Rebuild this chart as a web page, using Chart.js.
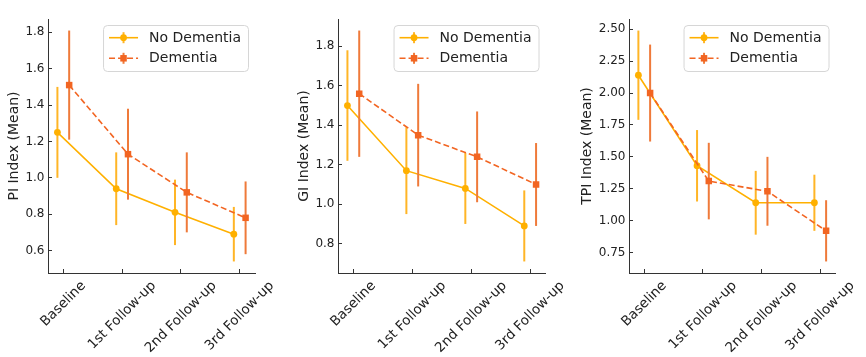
<!DOCTYPE html>
<html><head><meta charset="utf-8">
<script src="https://cdn.jsdelivr.net/npm/chart.js@4.4.1/dist/chart.umd.min.js"></script>
<style>
html,body{margin:0;padding:0;background:#fff;width:866px;height:357px;overflow:hidden;}
.panel{position:absolute;top:0;height:357px;}
canvas{display:block;}
</style></head><body>
<div class="panel" style="left:0px;width:290px"><canvas id="c1" width="290" height="357"></canvas></div>
<div class="panel" style="left:290px;width:290px"><canvas id="c2" width="290" height="357"></canvas></div>
<div class="panel" style="left:570px;width:296px"><canvas id="c3" width="296" height="357"></canvas></div>
<script>
// ---- data ----
const categories = ['Baseline', '1st Follow-up', '2nd Follow-up', '3rd Follow-up'];
const seriesNames = ['No Dementia', 'Dementia'];

const piNoDementia    = [1.25, 0.94, 0.81, 0.69];
const piNoDementiaErr = [0.25, 0.20, 0.18, 0.15];
const piDementia      = [1.51, 1.13, 0.92, 0.78];
const piDementiaErr   = [0.30, 0.25, 0.22, 0.20];

const giNoDementia    = [1.50, 1.17, 1.08, 0.89];
const giNoDementiaErr = [0.28, 0.22, 0.18, 0.18];
const giDementia      = [1.56, 1.35, 1.24, 1.10];
const giDementiaErr   = [0.32, 0.26, 0.23, 0.21];

const tpiNoDementia    = [2.14, 1.43, 1.14, 1.14];
const tpiNoDementiaErr = [0.35, 0.28, 0.25, 0.22];
const tpiDementia      = [2.00, 1.31, 1.23, 0.92];
const tpiDementiaErr   = [0.38, 0.30, 0.27, 0.24];

const piTicks  = [0.6, 0.8, 1.0, 1.2, 1.4, 1.6, 1.8];
const giTicks  = [0.8, 1.0, 1.2, 1.4, 1.6, 1.8];
const tpiTicks = [0.75, 1.00, 1.25, 1.50, 1.75, 2.00, 2.25, 2.50];

const yTitles = ['PI Index (Mean)', 'GI Index (Mean)', 'TPI Index (Mean)'];

// ---- style ----
Chart.defaults.font.family = 'DejaVu Sans';
const TEXT = '#222222';
const AXIS = '#333333';
const ND_COLOR = '#FFB000', ND_ERR = '#FFB526';
const D_COLOR = '#F26522', D_ERR = '#EF7A3A';
const X_OFFSET = 0.1;

const errorBarPlugin = {
  id: 'errorBars',
  beforeDatasetDraw(chart, args) {
    const ds = chart.data.datasets[args.index];
    if (!ds.errors) return;
    const xs = chart.scales.x, ys = chart.scales.y, ctx = chart.ctx;
    ctx.save();
    ctx.strokeStyle = ds.errColor;
    ctx.lineWidth = 2;
    ds.data.forEach((p, i) => {
      const x = xs.getPixelForValue(p.x);
      ctx.beginPath();
      ctx.moveTo(x, ys.getPixelForValue(p.y - ds.errors[i]));
      ctx.lineTo(x, ys.getPixelForValue(p.y + ds.errors[i]));
      ctx.stroke();
    });
    ctx.restore();
  }
};

const xLabelPlugin = {
  id: 'xLabels',
  afterDraw(chart) {
    const ctx = chart.ctx, xs = chart.scales.x, area = chart.chartArea;
    const fs = 13.5;
    ctx.save();
    ctx.font = fs + 'px "DejaVu Sans"';
    ctx.fillStyle = TEXT;
    ctx.textAlign = 'center';
    ctx.textBaseline = 'middle';
    categories.forEach((c, i) => {
      const w = ctx.measureText(c).width;
      const h = fs * 1.0;
      const span = (w + h) * Math.SQRT1_2;
      const cx = xs.getPixelForValue(i);
      const cy = area.bottom + 6 + span / 2;
      ctx.save();
      ctx.translate(cx, cy);
      ctx.rotate(-Math.PI / 4);
      ctx.fillText(c, 0, 0);
      ctx.restore();
    });
    ctx.restore();
  }
};

const legendPlugin = {
  id: 'boxLegend',
  afterDraw(chart) {
    const ctx = chart.ctx, area = chart.chartArea;
    const dsets = chart.data.datasets;
    ctx.save();
    ctx.font = '14px "DejaVu Sans"';
    const tw = Math.max(...dsets.map(d => ctx.measureText(d.label).width));
    const w = 46 + tw + 7, h = 46;
    const left = area.right - 7 - w, top = area.top + 6;
    ctx.beginPath();
    ctx.roundRect(left + 0.5, top + 0.5, w, h, 4);
    ctx.fillStyle = 'rgba(255,255,255,0.85)';
    ctx.fill();
    ctx.strokeStyle = '#d6d6d6';
    ctx.lineWidth = 1;
    ctx.stroke();
    dsets.forEach((d, i) => {
      const y = top + 12.7 + i * 20.6;
      const x0 = left + 6, x1 = left + 35, xm = (x0 + x1) / 2;
      ctx.strokeStyle = d.errColor; ctx.lineWidth = 2; ctx.setLineDash([]);
      ctx.beginPath(); ctx.moveTo(xm, y - 5.5); ctx.lineTo(xm, y + 5.5); ctx.stroke();
      ctx.strokeStyle = d.borderColor; ctx.lineWidth = d.borderWidth;
      ctx.setLineDash(d.borderDash || []);
      ctx.beginPath(); ctx.moveTo(x0, y); ctx.lineTo(x1, y); ctx.stroke();
      ctx.setLineDash([]);
      ctx.fillStyle = d.backgroundColor;
      if (d.pointStyle === 'rect') {
        const s = d.pointRadius * Math.SQRT1_2;
        ctx.fillRect(xm - s, y - s, 2 * s, 2 * s);
      } else {
        ctx.beginPath(); ctx.arc(xm, y, d.pointRadius, 0, Math.PI * 2); ctx.fill();
      }
      ctx.fillStyle = TEXT;
      ctx.textAlign = 'left'; ctx.textBaseline = 'middle';
      ctx.fillText(d.label, left + 46, y + 0.5);
    });
    ctx.restore();
  }
};

function makeChart(id, title, nd, ndErr, dm, dmErr, ticks, decimals, yWidth, padRight, titlePad) {
  const lows = nd.map((v, i) => v - ndErr[i]).concat(dm.map((v, i) => v - dmErr[i]));
  const highs = nd.map((v, i) => v + ndErr[i]).concat(dm.map((v, i) => v + dmErr[i]));
  const lo = Math.min(...lows), hi = Math.max(...highs);
  const pad = (hi - lo) * 0.05;
  const xlo = -X_OFFSET, xhi = categories.length - 1 + X_OFFSET;
  const xpad = (xhi - xlo) * 0.05;
  const gridOpts = { drawOnChartArea: false, drawTicks: true, tickLength: -4, color: AXIS, lineWidth: 1 };
  const borderOpts = { display: true, color: AXIS, width: 1 };
  return new Chart(document.getElementById(id), {
    type: 'line',
    data: {
      datasets: [
        { label: seriesNames[0], data: nd.map((v, i) => ({ x: i - X_OFFSET, y: v })), errors: ndErr,
          borderColor: ND_COLOR, backgroundColor: ND_COLOR, errColor: ND_ERR, borderWidth: 1.6,
          pointStyle: 'circle', pointRadius: 3.4, pointBorderWidth: 0, tension: 0, fill: false, order: 1 },
        { label: seriesNames[1], data: dm.map((v, i) => ({ x: i + X_OFFSET, y: v })), errors: dmErr,
          borderColor: D_COLOR, backgroundColor: D_COLOR, errColor: D_ERR, borderWidth: 1.6, borderDash: [6, 3],
          pointStyle: 'rect', pointRadius: 4.6, pointBorderWidth: 0, tension: 0, fill: false, order: 0 }
      ]
    },
    options: {
      responsive: false, animation: false, devicePixelRatio: 1,
      layout: { padding: { top: 19, right: padRight, left: 0, bottom: 0 } },
      plugins: { legend: { display: false }, tooltip: { enabled: false } },
      scales: {
        x: {
          type: 'linear', min: xlo - xpad, max: xhi + xpad,
          afterBuildTicks: s => { s.ticks = categories.map((c, i) => ({ value: i })); },
          ticks: { display: false },
          grid: gridOpts, border: borderOpts,
          afterFit: s => { s.height = 84; }
        },
        y: {
          type: 'linear', min: lo - pad, max: hi + pad,
          afterBuildTicks: s => { s.ticks = ticks.map(v => ({ value: v })); },
          ticks: { font: { size: 12 }, color: TEXT, padding: 7.5, callback: v => Number(v).toFixed(decimals) },
          grid: gridOpts, border: borderOpts,
          title: { display: true, text: title, color: TEXT, font: { size: 14 }, padding: { top: titlePad, bottom: 0 } },
          afterFit: s => { s.width = yWidth; }
        }
      }
    },
    plugins: [errorBarPlugin, xLabelPlugin, legendPlugin]
  });
}

makeChart('c1', yTitles[0], piNoDementia, piNoDementiaErr, piDementia, piDementiaErr, piTicks, 1, 48, 35, 5.5);
makeChart('c2', yTitles[1], giNoDementia, giNoDementiaErr, giDementia, giDementiaErr, giTicks, 1, 48, 34.5, 5.5);
makeChart('c3', yTitles[2], tpiNoDementia, tpiNoDementiaErr, tpiDementia, tpiDementiaErr, tpiTicks, 2, 59, 30.5, 8.5);
</script>
</body></html>
